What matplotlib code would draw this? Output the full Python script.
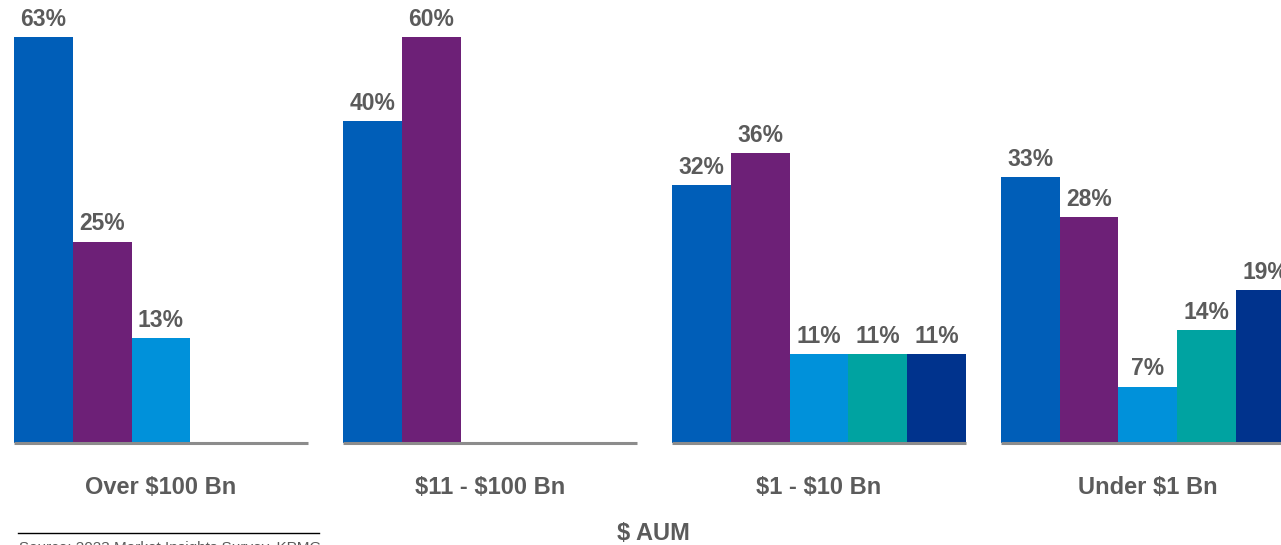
import numpy as np
import matplotlib.pyplot as plt

# AUM bands and the five series (None = no bar)
groups = ["Over $100 Bn", "$11 - $100 Bn", "$1 - $10 Bn", "Under $1 Bn"]
s1 = [63, 40, 32, 33]
s2 = [25, 60, 36, 28]
s3 = [13, None, 11, 7]
s4 = [None, None, 11, 14]
s5 = [None, None, 11, 19]
series = [s1, s2, s3, s4, s5]
colors = ["#005EB8", "#6D2077", "#0091DA", "#00A3A1", "#00338D"]

plt.rcParams['font.family'] = ['Liberation Sans', 'DejaVu Sans']
plt.rcParams['text.parse_math'] = False
txt = "#5b5b5b"

W, H = 1281, 545
fig = plt.figure(figsize=(W / 100, H / 100), dpi=100)

# bar area: baseline at y=443 px, top clip at y=37 px
ax = fig.add_axes([0, (H - 443) / H, 1, 406 / H])
slot = 58.75
stride = 5.6
ax.set_xlim(-14 / slot, (W - 14) / slot)
ymax = 50.4
ax.set_ylim(0, ymax)
ax.axis("off")

for si, vals in enumerate(series):
    for gi, v in enumerate(vals):
        if v is None:
            continue
        x = gi * stride + si + 0.5
        ax.bar(x, v, width=1.0, color=colors[si], linewidth=0)
        ax.annotate(f"{v}%", (x, min(v, ymax)), xytext=(0, 4.5), textcoords="offset points",
                    ha="center", va="bottom", fontsize=16.5, fontweight="bold",
                    color=txt, annotation_clip=False)

for gi, name in enumerate(groups):
    x0 = gi * stride
    ax.plot([x0, x0 + 5], [0, 0], color="#8c8c8c", linewidth=2.2, clip_on=False,
            solid_capstyle="butt")
    fig.text((14 + (x0 + 2.5) * slot) / W, (H - 487) / H, name, ha="center", va="center",
             fontsize=17, fontweight="bold", color=txt)

fig.text(653 / W, (H - 533) / H, "$ AUM", ha="center", va="center",
         fontsize=17, fontweight="bold", color=txt)

# source note, mostly cut off by the bottom edge
fig.add_artist(plt.Line2D([18 / W, 319 / W], [(H - 533) / H] * 2, color="black", linewidth=1))
fig.text(19 / W, (H - 541) / H, "Source: 2023 Market Insights Survey, KPMG", ha="left", va="top",
         fontsize=11, color=txt)

fig.savefig("out.png", dpi=100)
